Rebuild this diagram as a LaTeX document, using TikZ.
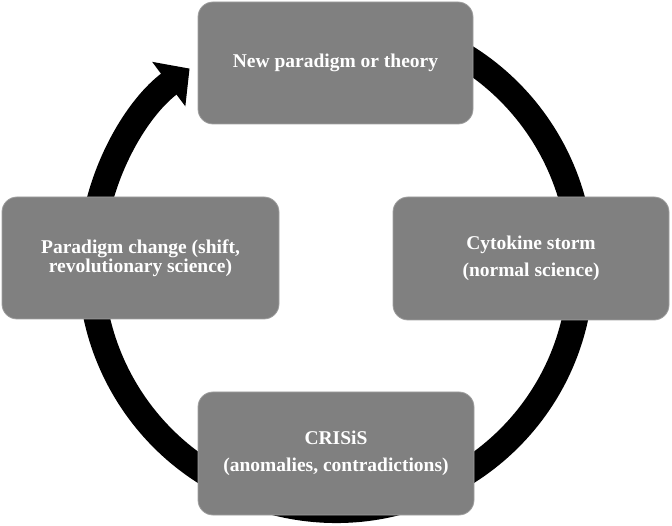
\documentclass[tikz,border=0pt]{standalone}
\usepackage{fontspec}
\setmainfont{Liberation Serif}
\usetikzlibrary{arrows.meta}
\definecolor{boxgrey}{RGB}{128,128,128}
\definecolor{boxedge}{RGB}{160,160,160}
\tikzset{
  stagebox/.style={rectangle, rounded corners=15pt, fill=boxgrey, draw=boxedge, line width=0.8pt,
    text=white, font=\fontsize{19.5}{19}\selectfont\bfseries, align=center, inner sep=0pt},
  cycle/.style={line width=26pt, draw=black}
}
\begin{document}
\begin{tikzpicture}[x=1pt,y=-1pt]
\useasboundingbox (0,0) rectangle (672,526);
\coordinate (c) at (336,265);
\draw[cycle, -{Triangle[length=26pt,width=54pt]}] ([shift={(280:245)}]c) arc[start angle=280, end angle=593.3, radius=245];
\node[stagebox, minimum width=275pt, minimum height=122pt] (new) at (335.5,63) {New paradigm or theory};
\node[stagebox, minimum width=277pt, minimum height=122pt] (shift) at (140.5,258) {Paradigm change (shift,\\revolutionary science)};
\node[stagebox, minimum width=276pt, minimum height=123pt] (normal) at (531,258.5) {Cytokine storm\\[8pt](normal science)};
\node[stagebox, minimum width=276pt, minimum height=123pt] (crisis) at (336,453.5) {CRISiS\\[8pt](anomalies, contradictions)};
\end{tikzpicture}
\end{document}
